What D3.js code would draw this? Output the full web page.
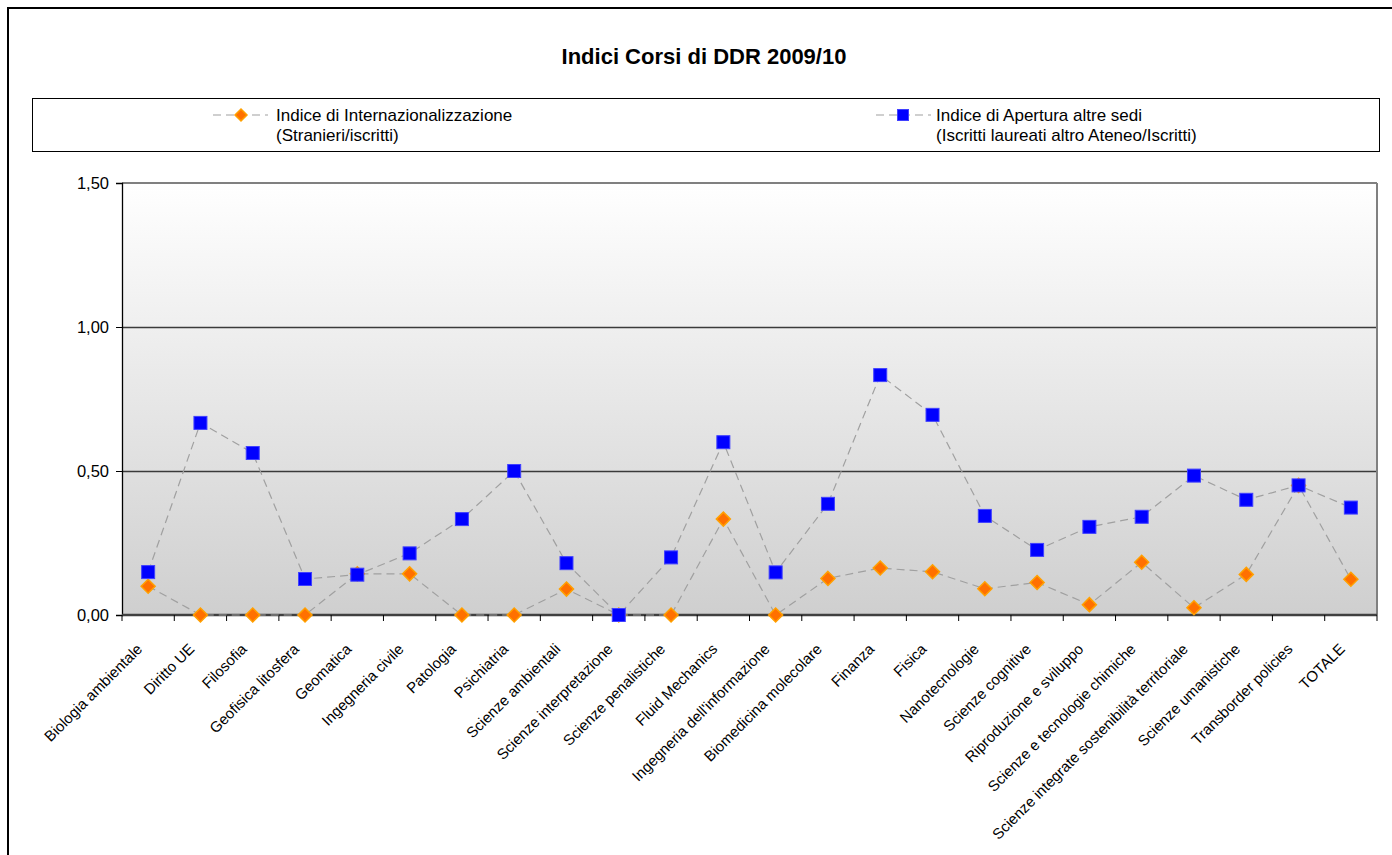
<!DOCTYPE html>
<html>
<head>
<meta charset="utf-8">
<script src="https://cdn.jsdelivr.net/npm/d3@7"></script>
<style>
  html, body { margin: 0; padding: 0; background: #ffffff; }
  svg { display: block; font-family: "Liberation Sans", Arial, sans-serif; }
</style>
</head>
<body>
<svg id="chart" width="1392" height="855"></svg>
<script>
const title = "Indici Corsi di DDR 2009/10";
const categories = [
  "Biologia ambientale", "Diritto UE", "Filosofia", "Geofisica litosfera", "Geomatica",
  "Ingegneria civile", "Patologia", "Psichiatria", "Scienze ambientali", "Scienze interpretazione",
  "Scienze penalistiche", "Fluid Mechanics", "Ingegneria dell'informazione", "Biomedicina molecolare",
  "Finanza", "Fisica", "Nanotecnologie", "Scienze cognitive", "Riproduzione e sviluppo",
  "Scienze e tecnologie chimiche", "Scienze integrate sostenibilità territoriale",
  "Scienze umanistiche", "Transborder policies", "TOTALE"
];
const internazionalizzazione = [
  0.10, 0, 0, 0, 0.143, 0.143, 0, 0, 0.09, 0, 0, 0.333, 0, 0.127,
  0.163, 0.15, 0.091, 0.113, 0.036, 0.183, 0.025, 0.141, 0.45, 0.124
];
const apertura = [
  0.149, 0.667, 0.5625, 0.125, 0.14, 0.214, 0.333, 0.50, 0.18, 0, 0.20, 0.60, 0.148, 0.386,
  0.833, 0.695, 0.344, 0.226, 0.306, 0.341, 0.484, 0.40, 0.45, 0.373
];
const seriesNames = [
  ["Indice di Internazionalizzazione", "(Stranieri/iscritti)"],
  ["Indice di Apertura altre sedi", "(Iscritti laureati altro Ateneo/Iscritti)"]
];
const yTicks = [0, 0.5, 1, 1.5];

const svg = d3.select("#chart");
const W = 1392, H = 855;
const plot = { left: 122, right: 1377, top: 183, bottom: 615 };

const itLocale = d3.formatLocale({ decimal: ",", thousands: ".", grouping: [3], currency: ["€", ""] });
const fmt = itLocale.format(".2f");

// Outer border
svg.append("rect").attr("x", 8).attr("y", 8).attr("width", W + 20).attr("height", H + 20)
  .attr("fill", "#fff").attr("stroke", "#000").attr("stroke-width", 2);

// Title
svg.append("text").attr("x", 704).attr("y", 63.5).attr("text-anchor", "middle")
  .attr("font-size", 22).attr("font-weight", "bold").attr("fill", "#000").text(title);

// Legend
svg.append("rect").attr("x", 32.5).attr("y", 98.5).attr("width", 1347).attr("height", 53)
  .attr("fill", "#fff").attr("stroke", "#000").attr("stroke-width", 1);

const defs = svg.append("defs");
const grad = defs.append("linearGradient").attr("id", "bg").attr("x1", 0).attr("y1", 0).attr("x2", 0).attr("y2", 1);
grad.append("stop").attr("offset", "0%").attr("stop-color", "#ffffff");
grad.append("stop").attr("offset", "100%").attr("stop-color", "#cfcfcf");

const x = d3.scaleBand().domain(categories).range([plot.left, plot.right]).padding(0);
const y = d3.scaleLinear().domain([0, 1.5]).range([plot.bottom, plot.top]);
const cx = d => x(d) + x.bandwidth() / 2;

// Plot background
svg.append("rect").attr("x", plot.left).attr("y", plot.top)
  .attr("width", plot.right - plot.left).attr("height", plot.bottom - plot.top)
  .attr("fill", "url(#bg)");

// Gridlines
svg.append("g").selectAll("line").data([0.5, 1.0]).join("line")
  .attr("x1", plot.left).attr("x2", plot.right)
  .attr("y1", d => Math.round(y(d)) + 0.5).attr("y2", d => Math.round(y(d)) + 0.5)
  .attr("stroke", "#3a3a3a").attr("stroke-width", 1.3);
// top & right border
svg.append("line").attr("x1", plot.left).attr("x2", plot.right).attr("y1", plot.top).attr("y2", plot.top)
  .attr("stroke", "#808080").attr("stroke-width", 2);
svg.append("line").attr("x1", plot.right).attr("x2", plot.right).attr("y1", plot.top).attr("y2", plot.bottom)
  .attr("stroke", "#808080").attr("stroke-width", 2);

// Y axis
const yAxis = d3.axisLeft(y).tickValues(yTicks).tickFormat(fmt).tickSize(6).tickPadding(7);
const gy = svg.append("g").attr("transform", `translate(${plot.left},0)`).call(yAxis);
gy.select(".domain").attr("stroke", "#000").attr("stroke-width", 1.3);
gy.selectAll(".tick line").attr("stroke", "#000");
gy.selectAll("text").attr("font-size", 16.5).attr("fill", "#000")
  .attr("font-family", "'Liberation Sans', Arial, sans-serif");

// X axis: ticks at band boundaries
const gx = svg.append("g").attr("transform", `translate(0,${plot.bottom})`);
gx.append("line").attr("x1", plot.left).attr("x2", plot.right).attr("y1", 0).attr("y2", 0)
  .attr("stroke", "#404040").attr("stroke-width", 2.5);
const boundaries = categories.map(c => x(c)).concat([plot.right]);
gx.selectAll("line.tk").data(boundaries).join("line").attr("class", "tk")
  .attr("x1", d => d).attr("x2", d => d).attr("y1", 0).attr("y2", 6)
  .attr("stroke", "#000").attr("stroke-width", 1);
gx.selectAll("text").data(categories).join("text")
  .attr("transform", d => `translate(${cx(d) - 5},${35}) rotate(-45)`)
  .attr("text-anchor", "end").attr("font-size", 15).attr("fill", "#000")
  .text(d => d);

// Series
const line = d3.line().x((d, i) => cx(categories[i])).y(d => y(d));
function diamond(g, xx, yy, r) {
  g.append("path").attr("d", `M${xx},${yy - r}L${xx + r},${yy}L${xx},${yy + r}L${xx - r},${yy}Z`)
    .attr("fill", "#ff7000").attr("stroke", "#ffa000").attr("stroke-width", 1.5);
}
function square(g, xx, yy, s) {
  g.append("rect").attr("x", xx - s / 2).attr("y", yy - s / 2).attr("width", s).attr("height", s)
    .attr("fill", "#0000ff").attr("stroke", "#4040ff").attr("stroke-width", 1);
}

const s1 = svg.append("g");
s1.append("path").datum(internazionalizzazione).attr("d", line).attr("fill", "none")
  .attr("stroke", "#a0a0a0").attr("stroke-width", 1.2).attr("stroke-dasharray", "8,5");
internazionalizzazione.forEach((v, i) => diamond(s1, cx(categories[i]), y(v), 7));

const s2 = svg.append("g");
s2.append("path").datum(apertura).attr("d", line).attr("fill", "none")
  .attr("stroke", "#a0a0a0").attr("stroke-width", 1.2).attr("stroke-dasharray", "8,5");
apertura.forEach((v, i) => square(s2, cx(categories[i]), y(v), 13));

// Legend items
const legendItems = [
  { x0: 213, x1: 268, mx: 241, tx: 276, kind: "diamond" },
  { x0: 876, x1: 931, mx: 903, tx: 936, kind: "square" }
];
legendItems.forEach((it, k) => {
  const g = svg.append("g");
  g.append("line").attr("x1", it.x0).attr("x2", it.x1).attr("y1", 115).attr("y2", 115)
    .attr("stroke", "#a0a0a0").attr("stroke-width", 1.2).attr("stroke-dasharray", "8,5");
  if (it.kind === "diamond") diamond(g, it.mx, 115, 6);
  else square(g, it.mx, 115, 11);
  const t = g.append("text").attr("x", it.tx).attr("y", 121).attr("font-size", 17).attr("fill", "#000");
  t.append("tspan").attr("x", it.tx).attr("dy", 0).text(seriesNames[k][0]);
  t.append("tspan").attr("x", it.tx).attr("dy", 20).text(seriesNames[k][1]);
});
</script>
</body>
</html>
